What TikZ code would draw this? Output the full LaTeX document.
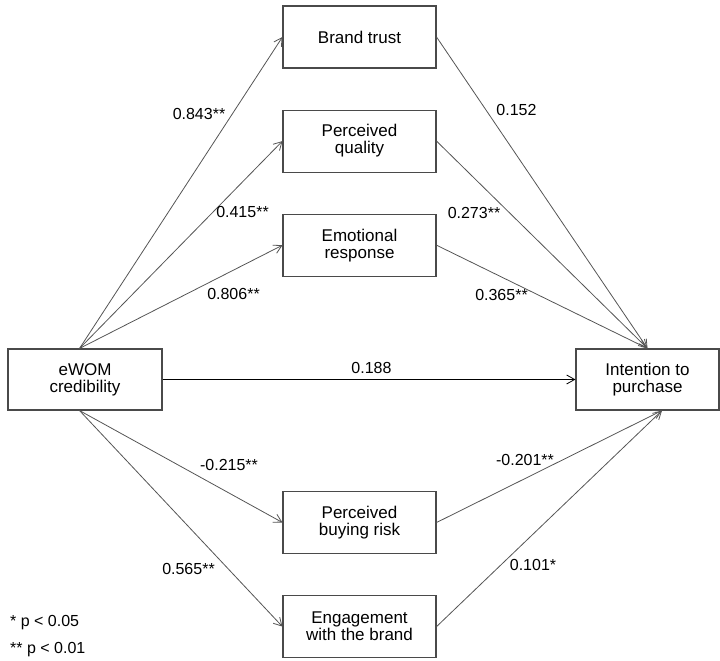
\documentclass[tikz,border=0pt]{standalone}
\usepackage{fontspec}
\setmainfont{Liberation Sans}
\usepackage{tikz}
\usetikzlibrary{arrows.meta,positioning}
\definecolor{boxLine}{HTML}{4a4a4a}
\definecolor{pathLine}{HTML}{555555}

\begin{document}
\begin{tikzpicture}[x=1pt,y=-1pt,>={Straight Barb[length=8pt,width=9pt]},node distance=41pt,
  box/.style={draw=boxLine,line width=1.1pt,align=center,inner sep=0pt,font=\fontsize{17pt}{17pt}\selectfont},
  mbox/.style={box,minimum width=153pt,minimum height=62pt},
  path/.style={->,draw=pathLine,line width=0.8pt},
  coef/.style={inner sep=0pt,font=\fontsize{16pt}{16pt}\selectfont}]
\useasboundingbox (0,0) rectangle (720,661);
\node[box,minimum width=154pt,minimum height=61pt] (ewom) at (85,379.5) {eWOM\\credibility};
\node[box,minimum width=143pt,minimum height=61pt] (ip) at (647.5,379.5) {Intention to\\purchase};
\node[mbox] (bt) at (359.5,37) {Brand trust};
\node[mbox,below=of bt] (pq) {Perceived\\quality};
\node[mbox,below=of pq] (er) {Emotional\\response};
\node[mbox] (pbr) at (359.5,522.5) {Perceived\\buying risk};
\node[mbox,below=of pbr] (eng) {Engagement\\with the brand};
% paths from eWOM credibility
\draw[path] (ewom.100) -- (bt.west);
\draw[path] (ewom.100) -- (pq.west);
\draw[path] (ewom.100) -- (er.west);
\draw[path] (ewom.-100) -- (pbr.west);
\draw[path] (ewom.-100) -- (eng.west);
\draw[path,draw=black] (ewom) -- (ip);
% paths into intention to purchase
\draw[path] (bt.east) -- (ip.north);
\draw[path] (pq.east) -- (ip.north);
\draw[path] (er.east) -- (ip.north);
\draw[path] (pbr.east) -- (ip.-65);
\draw[path] (eng.east) -- (ip.-65);
% coefficients
\node[coef] (c-bt) at (199,114) {0.843**};
\node[coef] (c-pq) at (242.5,211.5) {0.415**};
\node[coef] (c-er) at (233.5,294) {0.806**};
\node[coef] (c-pbr) at (229,465) {-0.215**};
\node[coef] (c-eng) at (188.5,568.5) {0.565**};
\node[coef] (c-dir) at (371.5,367.5) {0.188};
\node[coef] (d-bt) at (516.5,109.5) {0.152};
\node[coef] (d-pq) at (474,212.5) {0.273**};
\node[coef] (d-er) at (501.5,294.5) {0.365**};
\node[coef] (d-pbr) at (525,460) {-0.201**};
\node[coef] (d-eng) at (533,565) {0.101*};
% significance
\node[coef,anchor=west] (sig1) at (10,623) {* p < 0.05};
\node[coef,anchor=west] (sig2) at (10,649.5) {** p < 0.01};
\end{tikzpicture}
\end{document}
